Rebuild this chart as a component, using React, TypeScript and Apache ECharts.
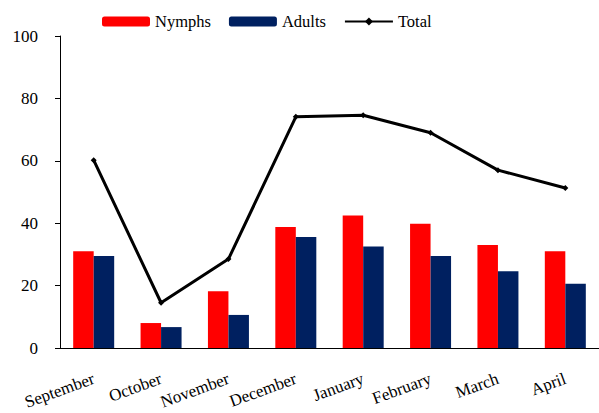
import React, { useEffect, useRef } from "react";
import * as echarts from "echarts";

const months = ["September", "October", "November", "December", "January", "February", "March", "April"];
const nymphs = [31, 8, 18.2, 38.8, 42.5, 39.8, 33, 31];
const adults = [29.5, 6.7, 10.6, 35.6, 32.5, 29.5, 24.6, 20.6];
const total = [60.2, 14.5, 28.5, 74.1, 74.6, 69, 57, 51.3];
const yTicks = [0, 20, 40, 60, 80, 100];

const FONT = "'Liberation Serif', 'Times New Roman', serif";

export default function App() {
  const ref = useRef<HTMLDivElement>(null);
  useEffect(() => {
    if (!ref.current) return;
    const chart = echarts.init(ref.current, undefined, { renderer: "svg" });
    chart.setOption({
      animation: false,
      textStyle: { fontFamily: FONT },
      legend: {
        left: 102,
        top: 13,
        padding: 0,
        itemWidth: 48,
        itemHeight: 10,
        itemGap: 18,
        textStyle: { fontFamily: FONT, fontSize: 16.5, color: "#000" },
        data: ["Nymphs", "Adults", "Total"],
      },
      grid: { left: 60, top: 36, bottom: 65, right: -10, containLabel: false },
      xAxis: {
        type: "category",
        data: months,
        axisLine: { lineStyle: { color: "#000", width: 1 } },
        axisTick: { lineStyle: { color: "#000" }, length: 5 },
        axisLabel: {
          rotate: 20,
          margin: 30,
          fontFamily: FONT,
          fontSize: 17,
          color: "#000",
          interval: 0,
        },
      },
      yAxis: {
        type: "value",
        min: yTicks[0],
        max: yTicks[yTicks.length - 1],
        interval: 20,
        splitLine: { show: false },
        axisLine: { show: true, lineStyle: { color: "#000", width: 1 } },
        axisTick: { show: true, inside: false, length: 5, lineStyle: { color: "#000" } },
        axisLabel: { fontFamily: FONT, fontSize: 17, color: "#000", margin: 22 },
      },
      series: [
        {
          name: "Nymphs",
          type: "bar",
          data: nymphs,
          barWidth: 20.5,
          barGap: "0%",
          itemStyle: { color: "#ff0000" },
        },
        {
          name: "Adults",
          type: "bar",
          data: adults,
          barWidth: 20.5,
          barGap: "0%",
          itemStyle: { color: "#002060" },
        },
        {
          name: "Total",
          type: "line",
          data: total,
          symbol: "diamond",
          symbolSize: 6,
          itemStyle: { color: "#000" },
          lineStyle: { color: "#000", width: 3 },
        },
      ],
    });
    return () => chart.dispose();
  }, []);
  return (
    <div
      ref={ref}
      style={{ position: "fixed", left: 0, top: 0, width: 599, height: 413, background: "#fff" }}
    />
  );
}
